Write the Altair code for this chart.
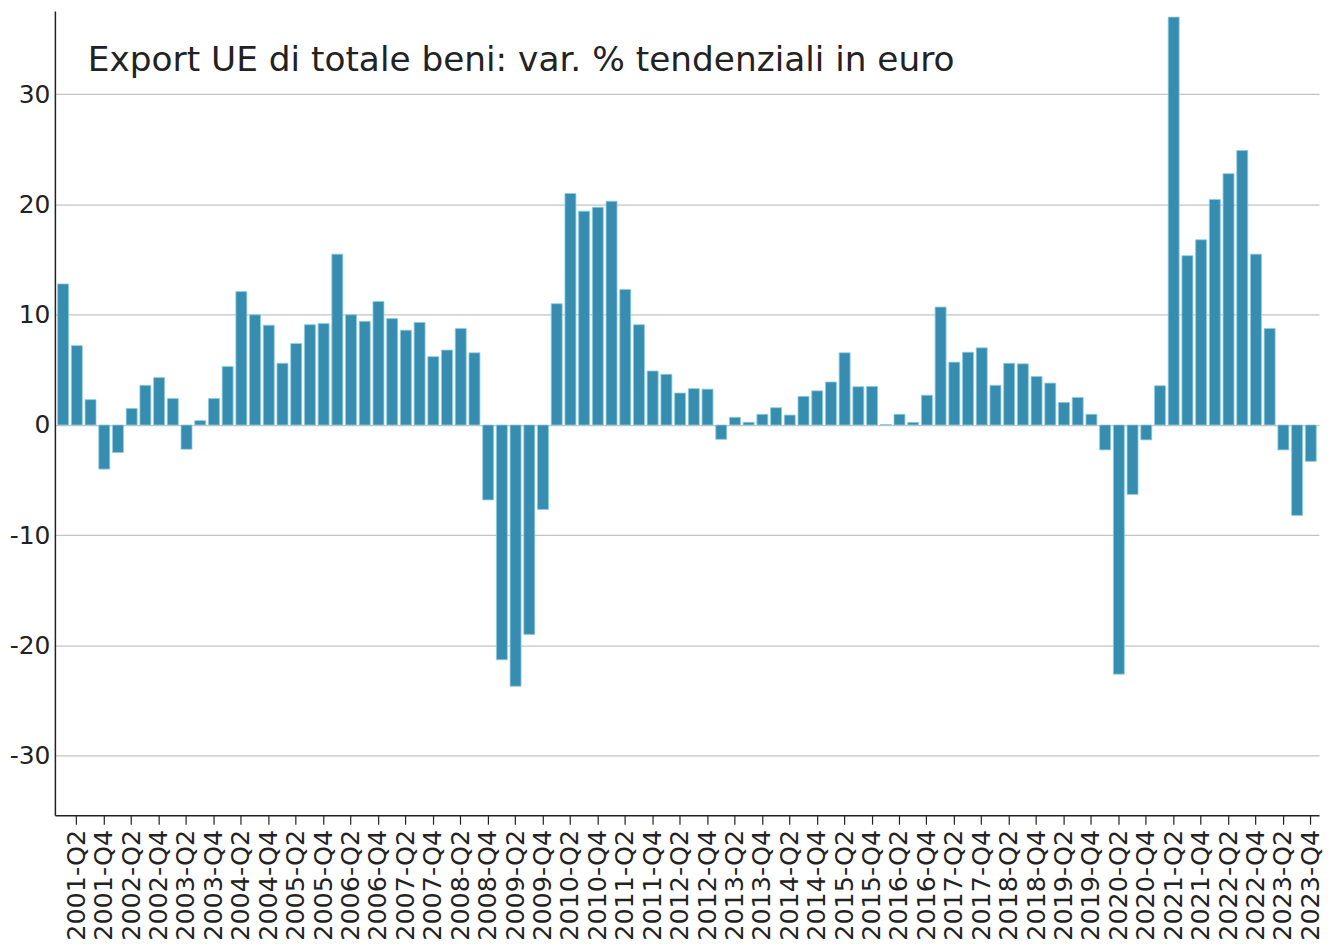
import altair as alt
import pandas as pd

years = list(range(2001, 2024))
quarters = ["Q1", "Q2", "Q3", "Q4"]
periods = [f"{y}-{q}" for y in years for q in quarters]

values = [
    12.8, 7.2, 2.3, -4.0,      # 2001
    -2.5, 1.5, 3.6, 4.3,       # 2002
    2.4, -2.2, 0.4, 2.4,       # 2003
    5.3, 12.1, 10.0, 9.05,     # 2004
    5.6, 7.4, 9.1, 9.2,        # 2005
    15.5, 10.0, 9.4, 11.2,     # 2006
    9.65, 8.6, 9.3, 6.2,       # 2007
    6.8, 8.75, 6.55, -6.8,     # 2008
    -21.3, -23.7, -19.0, -7.66,  # 2009
    11.0, 21.0, 19.4, 19.75,   # 2010
    20.3, 12.3, 9.1, 4.9,      # 2011
    4.6, 2.9, 3.3, 3.25,       # 2012
    -1.3, 0.7, 0.25, 0.97,     # 2013
    1.57, 0.9, 2.6, 3.1,       # 2014
    3.9, 6.55, 3.47, 3.5,      # 2015
    0.05, 0.97, 0.24, 2.7,     # 2016
    10.7, 5.7, 6.6, 7.0,       # 2017
    3.6, 5.6, 5.55, 4.4,       # 2018
    3.8, 2.05, 2.5, 0.97,      # 2019
    -2.26, -22.6, -6.3, -1.35,  # 2020
    3.56, 37.0, 15.36, 16.8,   # 2021
    20.45, 22.8, 24.9, 15.5,   # 2022
    8.75, -2.26, -8.2, -3.3,   # 2023
]

tick_labels = [f"{y}-{q}" for y in years for q in ["Q2", "Q4"]]
y_ticks = [-30, -20, -10, 0, 10, 20, 30]
title_text = "Export UE di totale beni: var. % tendenziali in euro"

df = pd.DataFrame({"periodo": periods, "valore": values})

FONT = "DejaVu Sans"

bars = alt.Chart(df).mark_bar(
    color="#368db0", stroke="#8fcde2", strokeWidth=0.8
).encode(
    x=alt.X(
        "periodo:N",
        sort=periods,
        scale=alt.Scale(paddingInner=0.2, paddingOuter=0.2),
        axis=alt.Axis(
            title=None,
            values=tick_labels,
            labelAngle=-90,
            labelFontSize=25.5,
            labelFont=FONT,
            labelColor="#222222",
            labelPadding=5,
            tickSize=9,
            tickColor="#222222",
            tickWidth=1.2,
            domainColor="#222222",
            domainWidth=1.5,
            grid=False,
        ),
    ),
    y=alt.Y(
        "valore:Q",
        scale=alt.Scale(domain=[-35.4, 37.55], nice=False, zero=False),
        axis=alt.Axis(
            title=None,
            values=y_ticks,
            labelExpr="datum.value + ''",
            labelFontSize=25,
            labelFont=FONT,
            labelColor="#222222",
            labelPadding=5,
            tickSize=0,
            domainColor="#222222",
            domainWidth=1.5,
            grid=True,
            gridColor="#c4c4c4",
            gridWidth=1.2,
        ),
    ),
)

title = alt.Chart(pd.DataFrame({"t": [title_text]})).mark_text(
    align="left", baseline="alphabetic", fontSize=34.4, font=FONT, color="#222222"
).encode(
    text="t:N",
    x=alt.value(33),
    y=alt.value(60),
)

chart = alt.layer(bars, title).properties(
    width=1267,
    height=806,
    autosize=alt.AutoSizeParams(type="none"),
    padding={"left": 47, "top": 2, "right": 10, "bottom": 130},
).configure(background="white").configure_view(stroke=None)

chart.save("out.html", embed_options={"renderer": "svg", "actions": False})
